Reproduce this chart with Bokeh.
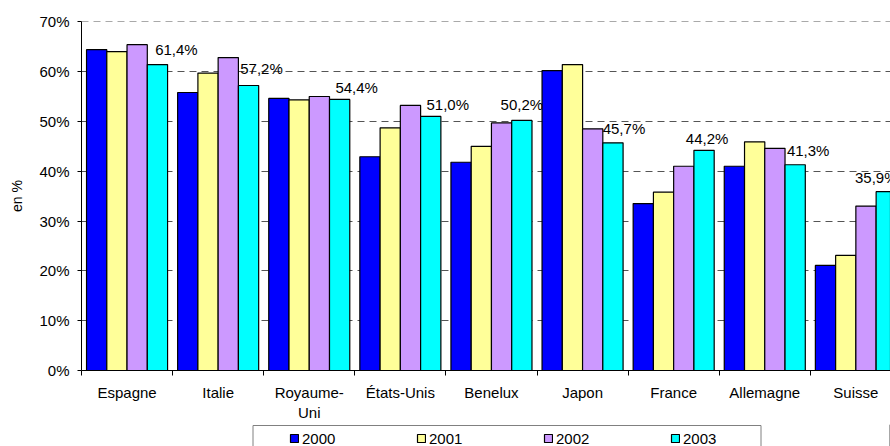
from bokeh.plotting import figure
from bokeh.layouts import column
from bokeh.models import Range1d, FixedTicker, PrintfTickFormatter, Legend, LegendItem, ColumnDataSource
from bokeh.core.properties import value
from bokeh.embed import file_html
from bokeh.resources import INLINE

# ---------------- data ----------------
countries = ["Espagne", "Italie", "Royaume-\nUni", "États-Unis", "Benelux",
             "Japon", "France", "Allemagne", "Suisse"]
years = ["2000", "2001", "2002", "2003"]
v2000 = [64.4, 55.8, 54.6, 42.9, 41.8, 60.2, 33.5, 41.0, 21.1]
v2001 = [64.0, 59.7, 54.3, 48.7, 45.0, 61.4, 35.8, 45.9, 23.1]
v2002 = [65.4, 62.8, 55.0, 53.2, 49.7, 48.5, 41.0, 44.6, 33.0]
v2003 = [61.4, 57.2, 54.4, 51.0, 50.2, 45.7, 44.2, 41.3, 35.9]
y_ticks = [0, 10, 20, 30, 40, 50, 60, 70]

# ---------------- styles ----------------
colors = ["#0000FF", "#FFFF99", "#CC99FF", "#00FFFF"]
label_dx = [19, 13, 17, 17, 0, 11, 3, 13, -10]   # px nudges of data labels
label_dy = [15, 17, 12, 12, 16, 14, 12, 14, 14]
FONT = "Liberation Sans"

series = [v2000, v2001, v2002, v2003]
n = len(countries)
centers = [i + 0.5 for i in range(n)]
offsets = [-0.3335, -0.111, 0.111, 0.3335]
bar_w = 0.2225

p = figure(width=890, height=424, output_backend="svg", toolbar_location=None,
           x_range=Range1d(0, 8.88), y_range=Range1d(0, 70.05),
           min_border_left=81, min_border_right=0, min_border_top=21,
           min_border_bottom=54)
p.outline_line_color = None
p.background_fill_color = "white"
p.border_fill_color = "white"

renderers = []
for k, (vals, col) in enumerate(zip(series, colors)):
    src = ColumnDataSource(dict(x=[c + offsets[k] for c in centers], top=vals))
    r = p.vbar(x="x", top="top", width=bar_w, bottom=0, source=src,
               fill_color=col, line_color="black", line_width=1.2)
    renderers.append(r)

# data labels (2003)
lab_src = ColumnDataSource(dict(
    x=[c + offsets[3] for c in centers], y=v2003,
    t=[("%.1f" % v).replace(".", ",") + "%" for v in v2003],
    dx=label_dx, dy=[-d for d in label_dy]))
p.text(x="x", y="y", text="t", x_offset="dx", y_offset="dy", source=lab_src,
       text_align="center", text_baseline="middle",
       text_font=value(FONT), text_font_size="15px", text_color="black")

# axes
yax = p.yaxis[0]
yax.ticker = FixedTicker(ticks=y_ticks)
yax.formatter = PrintfTickFormatter(format="%d%%")
yax.axis_line_color = "black"
yax.major_tick_line_color = "black"
yax.major_tick_out = 4
yax.major_tick_in = 0
yax.minor_tick_line_color = None
yax.major_label_standoff = 8
yax.major_label_text_font = FONT
yax.major_label_text_font_size = "15px"
yax.major_label_text_color = "black"
yax.axis_label = "en %"
yax.axis_label_text_font = FONT
yax.axis_label_text_font_size = "14px"
yax.axis_label_text_font_style = "normal"
yax.axis_label_text_color = "black"
yax.axis_label_standoff = 11

xax = p.xaxis[0]
xax.ticker = FixedTicker(ticks=centers, minor_ticks=list(range(n + 1)))
xax.major_label_overrides = {c: name for c, name in zip(centers, countries)}
xax.axis_line_color = "black"
xax.major_tick_line_color = None
xax.minor_tick_line_color = "black"
xax.minor_tick_out = 5
xax.minor_tick_in = 0
xax.major_label_standoff = 7
xax.major_label_text_font = FONT
xax.major_label_text_font_size = "15px"
xax.major_label_text_color = "black"

p.xgrid.grid_line_color = None
p.ygrid.ticker = FixedTicker(ticks=y_ticks[1:])
p.ygrid.grid_line_color = "#555555"
p.ygrid.grid_line_dash = "7 5"
p.ygrid.grid_line_width = 1

# ---------------- legend strip ----------------
# strip frame is aligned with the chart frame: x in pixels 81..890, y 0..22 from its bottom
lg = figure(width=890, height=22, output_backend="svg", toolbar_location=None,
            x_range=Range1d(81, 890), y_range=Range1d(0, 22),
            x_axis_location=None, y_axis_location=None,
            min_border_left=0, min_border_right=0, min_border_top=0,
            min_border_bottom=0)
lg.grid.visible = False
lg.outline_line_color = None
lg.border_fill_color = "white"
lg.background_fill_color = "white"

# legend frame (extends below the visible area, like the reference)
lg.quad(left=[252.5], right=[760.5], top=[21], bottom=[-30],
        fill_color="white", line_color="#808080", line_width=1)

leg_rs = [lg.vbar(x=[2000], top=[900], width=1, fill_color=col, line_color="black", line_width=1.2)
          for col in colors]
items_legend = Legend(items=[LegendItem(label=y, renderers=[r]) for y, r in zip(years, leg_rs)],
                      orientation="horizontal", location=(208, -2),
                      padding=4, margin=0, spacing=80,
                      glyph_width=10, glyph_height=10, label_standoff=3,
                      label_width=34, label_height=20,
                      border_line_color=None, background_fill_alpha=0,
                      label_text_font=FONT, label_text_font_size="15px",
                      label_text_color="black")
lg.add_layout(items_legend)

layout = column(p, lg, spacing=0)
open("out.html", "w").write(file_html(layout, INLINE))
